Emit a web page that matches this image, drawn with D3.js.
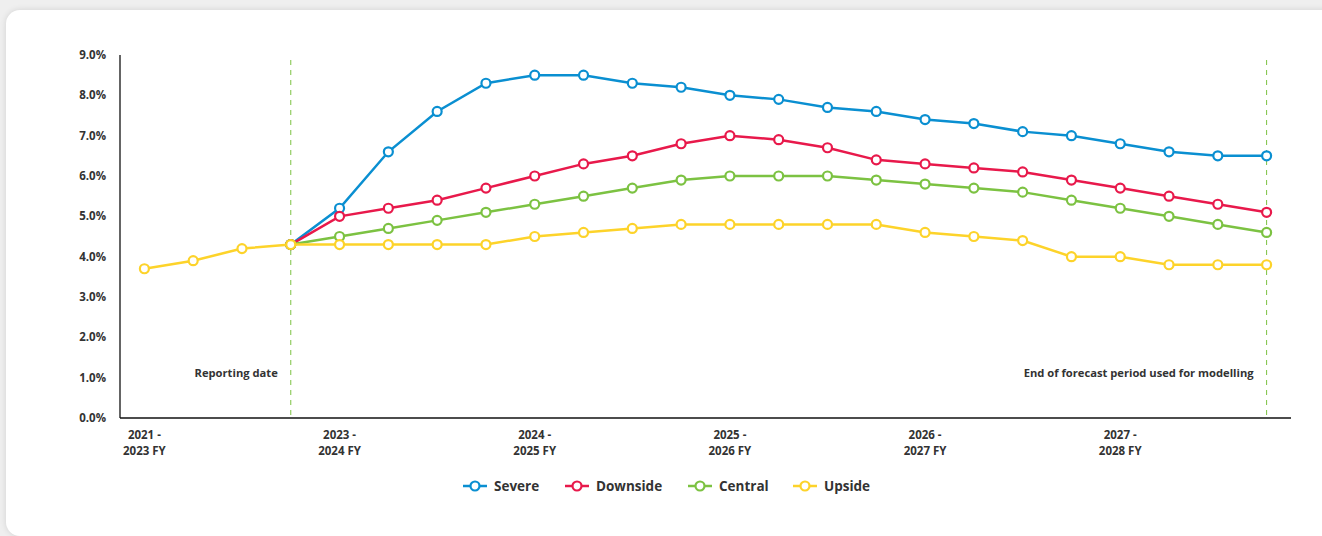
<!DOCTYPE html>
<html>
<head>
<meta charset="utf-8">
<script src="https://cdn.jsdelivr.net/npm/d3@7"></script>
<style>
  body { margin: 0; background: #efefef; overflow: hidden; }
  .card {
    position: absolute; left: 6px; top: 10px; width: 1340px; height: 526px;
    background: #fff; border-radius: 14px;
    box-shadow: 0 0 6px rgba(0,0,0,0.12);
  }
  svg { position: absolute; left: 0; top: 0; }
  text { font-family: "Open Sans", sans-serif; font-weight: bold; fill: #333; }
</style>
</head>
<body>
<div class="card"></div>
<div id="chart"></div>
<script>
/* DATA */
const periods = ["2021 - 2023 FY","p1","p2","p3","2023 - 2024 FY","p5","p6","p7","2024 - 2025 FY","p9","p10","p11",
  "2025 - 2026 FY","p13","p14","p15","2026 - 2027 FY","p17","p18","p19","2027 - 2028 FY","p21","p22","p23"];
const tickLabels = [["2021 -","2023 FY"],["2023 -","2024 FY"],["2024 -","2025 FY"],["2025 -","2026 FY"],["2026 -","2027 FY"],["2027 -","2028 FY"]];
const tickIndex = [0, 4, 8, 12, 16, 20];
const yTicks = [0,1,2,3,4,5,6,7,8,9];

// scenarios start at the reporting date (index 3), upside has history
const severe   = [4.3,5.2,6.6,7.6,8.3,8.5,8.5,8.3,8.2,8.0,7.9,7.7,7.6,7.4,7.3,7.1,7.0,6.8,6.6,6.5,6.5];
const downside = [4.3,5.0,5.2,5.4,5.7,6.0,6.3,6.5,6.8,7.0,6.9,6.7,6.4,6.3,6.2,6.1,5.9,5.7,5.5,5.3,5.1];
const central  = [4.3,4.5,4.7,4.9,5.1,5.3,5.5,5.7,5.9,6.0,6.0,6.0,5.9,5.8,5.7,5.6,5.4,5.2,5.0,4.8,4.6];
const upside   = [3.7,3.9,4.2,4.3,4.3,4.3,4.3,4.3,4.5,4.6,4.7,4.8,4.8,4.8,4.8,4.8,4.6,4.5,4.4,4.0,4.0,3.8,3.8,3.8];

const seriesNames  = ["Severe","Downside","Central","Upside"];
const seriesColors = ["#0a8fd1","#e8194b","#7cc242","#fdd32a"];
const seriesStart  = [3, 3, 3, 0];
const seriesValues = [severe, downside, central, upside];

const markerIdx = [3, 23];
const markerText = ["Reporting date", "End of forecast period used for modelling"];

/* CONSTANTS */
const width = 1322, height = 536,
  margin = {top: 55, left: 120, right: 31, bottom: 118};

const svg = d3.select("#chart").append("svg")
  .attr("width", width)
  .attr("height", height);

/* SCALES */
const xScale = d3.scaleBand()
  .domain(periods)
  .range([margin.left, width - margin.right]);

const xPos = i => xScale(periods[i]) + xScale.bandwidth()/2;

const yScale = d3.scaleLinear()
  .domain([0, 9])
  .range([height - margin.bottom, margin.top]);

/* AXES */
svg.append("line")
  .attr("x1", margin.left).attr("x2", margin.left)
  .attr("y1", yScale(9)).attr("y2", yScale(0))
  .attr("stroke", "#111").attr("stroke-width", 1.3);

svg.append("line")
  .attr("x1", margin.left).attr("x2", width - margin.right)
  .attr("y1", yScale(0)).attr("y2", yScale(0))
  .attr("stroke", "#111").attr("stroke-width", 1.3);

svg.selectAll("text.ytick")
  .data(yTicks)
  .join("text")
    .attr("class", "ytick")
    .attr("x", margin.left - 14)
    .attr("y", d => yScale(d) + 4)
    .attr("text-anchor", "end")
    .attr("font-size", "11.5px")
    .text(d => d.toFixed(1) + "%");

const xt = svg.selectAll("text.xtick")
  .data(tickIndex)
  .join("text")
    .attr("class", "xtick")
    .attr("x", d => xPos(d))
    .attr("y", yScale(0) + 21)
    .attr("text-anchor", "middle")
    .attr("font-size", "11.5px");

xt.selectAll("tspan")
  .data((d, i) => tickLabels[i])
  .join("tspan")
    .attr("x", function() { return d3.select(this.parentNode).attr("x"); })
    .attr("dy", (d, i) => i === 0 ? 0 : 15.5)
    .text(d => d);

/* VERTICAL MARKERS */
svg.selectAll("line.marker")
  .data(markerIdx)
  .join("line")
    .attr("class", "marker")
    .attr("x1", d => xPos(d)).attr("x2", d => xPos(d))
    .attr("y1", yScale(9) + 5).attr("y2", yScale(0))
    .attr("stroke", "#7cc242")
    .attr("stroke-width", 1)
    .attr("stroke-dasharray", "5 5");

svg.selectAll("text.marker-label")
  .data(markerIdx)
  .join("text")
    .attr("class", "marker-label")
    .attr("x", d => xPos(d) - 13)
    .attr("y", yScale(1.1) + 3)
    .attr("text-anchor", "end")
    .attr("font-size", "11.2px")
    .text((d, i) => markerText[i]);

/* LINES */
const line = d3.line()
  .x(d => xPos(d.i))
  .y(d => yScale(d.v));

seriesNames.forEach((name, s) => {
  const pts = seriesValues[s].map((v, k) => ({i: seriesStart[s] + k, v: v}));
  const g = svg.append("g").attr("class", "series");
  g.append("path")
    .datum(pts)
    .attr("d", line)
    .attr("fill", "none")
    .attr("stroke", seriesColors[s])
    .attr("stroke-width", 2.5);
  g.selectAll("circle")
    .data(pts)
    .join("circle")
      .attr("cx", d => xPos(d.i))
      .attr("cy", d => yScale(d.v))
      .attr("r", 4.5)
      .attr("fill", "#fff")
      .attr("stroke", seriesColors[s])
      .attr("stroke-width", 2.2);
});

/* LEGEND */
const legendX = [463, 565, 688, 793];
const legend = svg.selectAll("g.legend")
  .data(seriesNames)
  .join("g")
    .attr("class", "legend")
    .attr("transform", (d, i) => `translate(${legendX[i]},486)`);

legend.append("line")
  .attr("x1", 0).attr("x2", 24)
  .attr("stroke", (d, i) => seriesColors[i])
  .attr("stroke-width", 2.5);

legend.append("circle")
  .attr("cx", 12).attr("r", 4.5)
  .attr("fill", "#fff")
  .attr("stroke", (d, i) => seriesColors[i])
  .attr("stroke-width", 2.2);

legend.append("text")
  .attr("x", 31).attr("y", 5)
  .attr("font-size", "13.5px")
  .text(d => d);
</script>
</body>
</html>
